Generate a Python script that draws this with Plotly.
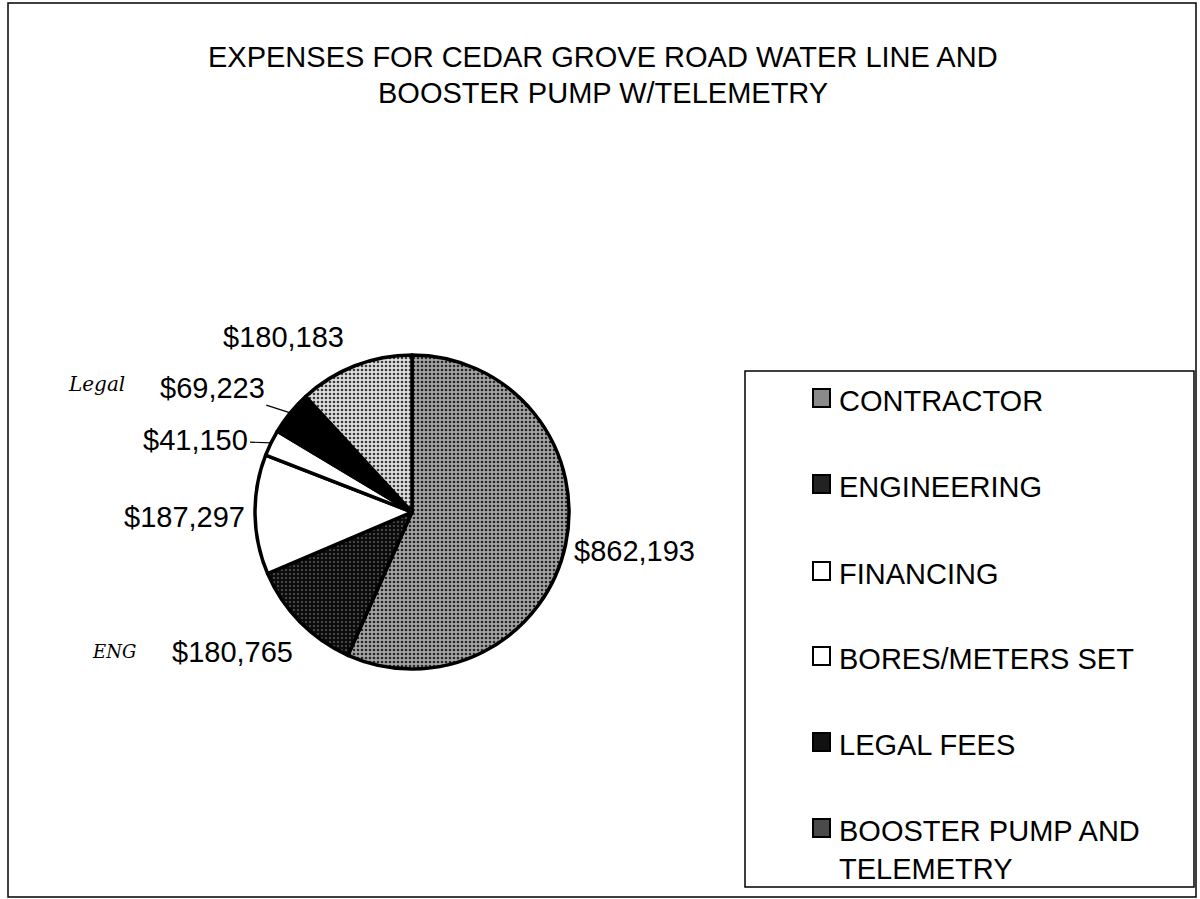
import math
import plotly.graph_objects as go

categories = ["CONTRACTOR", "ENGINEERING", "FINANCING", "BORES/METERS SET",
              "LEGAL FEES", "BOOSTER PUMP AND<br>TELEMETRY"]
values = [862193, 180765, 187297, 41150, 69223, 180183]
title_lines = ["EXPENSES FOR CEDAR GROVE ROAD WATER LINE AND",
               "BOOSTER PUMP W/TELEMETRY"]
notes = ["Legal", "ENG"]

W, H = 1200, 899
FONT = "Arial, Liberation Sans, sans-serif"

# pie geometry (pixels)
CX, CY, R = 412, 512, 157

bgs = ["#a4a4a4", "#0c0c0c", "white", "white", "black", "#dedede"]
fgs = ["#262626", "#9a9a9a", "white", "white", "black", "#3a3a3a"]
shapes_p = [".", ".", "", "", "", "."]
solid = [0.35, 0.12, 0.3, 0.3, 0.3, 0.35]
legend_fill = ["#8a8a8a", "#222222", "white", "white", "#111111", "#4a4a4a"]
# label offsets (px) from each slice's rim mid-point; leader lines for small slices
leader = [False, False, False, True, True, False]
label_off = [(69, 6), (-68, 30), (-71, 2), (-75, -3), (-78, -25), (-71, -29)]

fig = go.Figure()
fig.add_trace(go.Pie(
    labels=categories, values=values, sort=False, direction="clockwise", rotation=0,
    textinfo="none",
    marker=dict(colors=bgs, line=dict(color="black", width=3.5),
                pattern=dict(shape=shapes_p, fgcolor=fgs, bgcolor=bgs, size=4, solidity=solid)),
    domain=dict(x=[(CX - R) / W, (CX + R) / W], y=[1 - (CY + R) / H, 1 - (CY - R) / H]),
    showlegend=False, hoverinfo="label+value",
))

shapes = [
    dict(type="rect", xref="paper", yref="paper", x0=8 / W, x1=1196 / W, y0=1 - 897 / H, y1=1 - 3 / H,
         line=dict(color="black", width=1.5)),
    dict(type="rect", xref="paper", yref="paper", x0=745 / W, x1=1194 / W, y0=1 - 887 / H, y1=1 - 371 / H,
         line=dict(color="black", width=1.5)),
]
annotations = []
for i, line in enumerate(title_lines):
    annotations.append(dict(text=line, x=603 / W, y=1 - (57 + 36 * i) / H, xref="paper", yref="paper",
                            showarrow=False, font=dict(family=FONT, size=29, color="black"),
                            xanchor="center", yanchor="middle"))

# value labels, anchored at the slice mid-angle on the rim
total = sum(values)
cum = 0
for i, v in enumerate(values):
    mid = (cum + v / 2) / total * 2 * math.pi
    cum += v
    px = CX + R * math.sin(mid)
    py = CY - R * math.cos(mid)
    dx, dy = label_off[i]
    common = dict(text="${:,.0f}".format(v), x=px / W, y=1 - py / H, xref="paper", yref="paper",
                  font=dict(family=FONT, size=29, color="black"))
    if leader[i]:
        annotations.append(dict(**common, showarrow=True, arrowhead=0, arrowwidth=1.2,
                                arrowcolor="black", ax=dx, ay=dy))
    else:
        annotations.append(dict(**common, showarrow=False, xanchor="center", yanchor="middle",
                                xshift=dx, yshift=-dy))

row_y = [398, 484, 571, 656, 742, 828]
for i, cat in enumerate(categories):
    yc = row_y[i]
    shapes.append(dict(type="rect", xref="paper", yref="paper",
                       x0=813 / W, x1=830 / W, y0=1 - (yc + 9) / H, y1=1 - (yc - 9) / H,
                       fillcolor=legend_fill[i], line=dict(color="black", width=2)))
    annotations.append(dict(text=cat, x=837 / W, y=1 - (yc - 15) / H, xref="paper", yref="paper",
                            showarrow=False, align="left", xanchor="left", yanchor="top",
                            font=dict(family=FONT, size=29, color="black")))

annotations.append(dict(text="<i>" + notes[0] + "</i>", x=97 / W, y=1 - 384 / H, xref="paper", yref="paper",
                        showarrow=False, xanchor="center", yanchor="middle",
                        font=dict(family="DejaVu Serif", size=20, color="black")))
annotations.append(dict(text="<i>" + notes[1] + "</i>", x=114 / W, y=1 - 651 / H, xref="paper", yref="paper",
                        showarrow=False, xanchor="center", yanchor="middle",
                        font=dict(family="DejaVu Serif", size=18, color="black")))

fig.update_layout(width=W, height=H, margin=dict(l=0, r=0, t=0, b=0),
                  paper_bgcolor="white", plot_bgcolor="white",
                  shapes=shapes, annotations=annotations, showlegend=False)

fig.write_html("out.html", config={"displayModeBar": False},
               post_script="document.body.style.margin='0';")
